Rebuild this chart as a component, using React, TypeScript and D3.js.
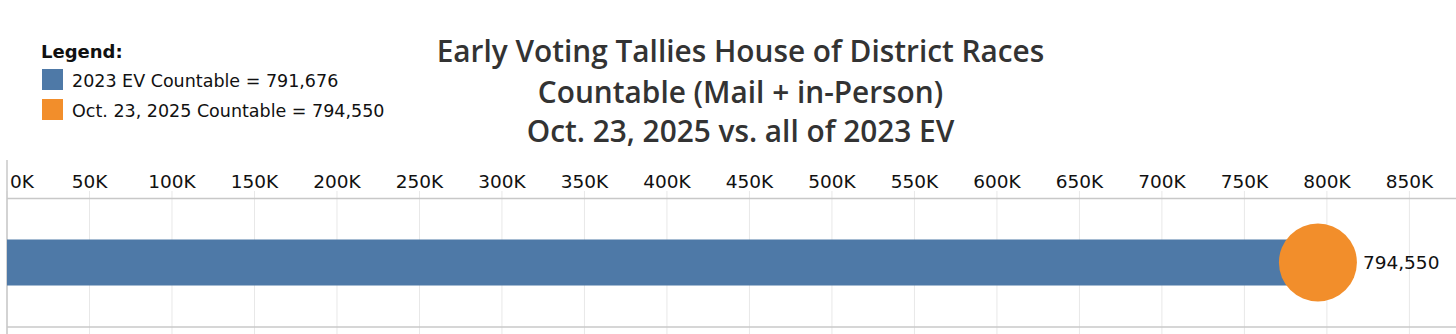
import React from "react";
import * as d3 from "d3";

const categories = ["House of District Races"];
const ev2023Values = [791676];
const oct2025Values = [794550];
const tickValues = [0, 50000, 100000, 150000, 200000, 250000, 300000, 350000, 400000, 450000, 500000, 550000, 600000, 650000, 700000, 750000, 800000, 850000];
const legendLabels = ["2023 EV Countable = 791,676", "Oct. 23, 2025 Countable = 794,550"];
const titleLines = ["Early Voting Tallies House of District Races", "Countable (Mail + in-Person)", "Oct. 23, 2025 vs. all of 2023 EV"];

const W = 1456;
const H = 334;
const BLUE = "#4e79a7";
const ORANGE = "#f28e2b";

export default function App() {
  const x = d3.scaleLinear().domain([0, 874000]).range([7, 1449]);
  const y = d3.scaleBand().domain(categories).range([198, 327]).paddingInner(0).paddingOuter(0.902);
  const fmt = (v: number) => `${d3.format(",")(v / 1000)}K`;
  const numFmt = d3.format(",");

  return (
    <svg width={W} height={H} style={{ position: "absolute", left: 0, top: 0, background: "#fff" }}>
      {/* Legend */}
      <text x={41} y={58} fontFamily="DejaVu Sans" fontWeight="bold" fontSize={18} fill="#111">Legend:</text>
      {legendLabels.map((l, i) => (
        <g key={l}>
          <rect x={42} y={69 + i * 30} width={21} height={21} fill={i === 0 ? BLUE : ORANGE} />
          <text x={72} y={86.5 + i * 30} fontFamily="DejaVu Sans" fontSize={17.5} fill="#111">{l}</text>
        </g>
      ))}
      {/* Title */}
      {titleLines.map((t, i) => (
        <text key={t} x={740.5} y={[62, 103, 142][i]} textAnchor="middle" fontFamily="Open Sans" fontWeight={600} fontSize={29.8} fill="#333">{t}</text>
      ))}
      {/* Gridlines */}
      {tickValues.map((v) => (
        <line key={"g" + v} x1={x(v)} x2={x(v)} y1={191} y2={H} stroke="#e8e8e8" strokeWidth={1} />
      ))}
      {/* Axis lines */}
      <line x1={7} x2={7} y1={160} y2={H} stroke="#c8c8c8" strokeWidth={1.5} />
      <line x1={7} x2={W} y1={198.5} y2={198.5} stroke="#c8c8c8" strokeWidth={1.5} />
      <line x1={7} x2={W} y1={327} y2={327} stroke="#c8c8c8" strokeWidth={1.5} />
      {/* Tick labels */}
      {tickValues.map((v, i) => (
        <text key={"t" + v} x={i === 0 ? 10 : x(v)} y={188} textAnchor={i === 0 ? "start" : "middle"} fontFamily="DejaVu Sans" fontSize={18.5} fill="#111">{fmt(v)}</text>
      ))}
      {/* Bars */}
      {categories.map((c, i) => (
        <g key={c}>
          <rect x={x(0)} y={y(c)!} width={x(ev2023Values[i]) - x(0)} height={y.bandwidth()} fill={BLUE} />
          <circle cx={x(oct2025Values[i])} cy={y(c)! + y.bandwidth() / 2} r={39} fill={ORANGE} />
          <text x={x(oct2025Values[i]) + 45} y={y(c)! + y.bandwidth() / 2} dy="0.35em" fontFamily="DejaVu Sans" fontSize={18.5} fill="#111">{numFmt(oct2025Values[i])}</text>
        </g>
      ))}
    </svg>
  );
}
